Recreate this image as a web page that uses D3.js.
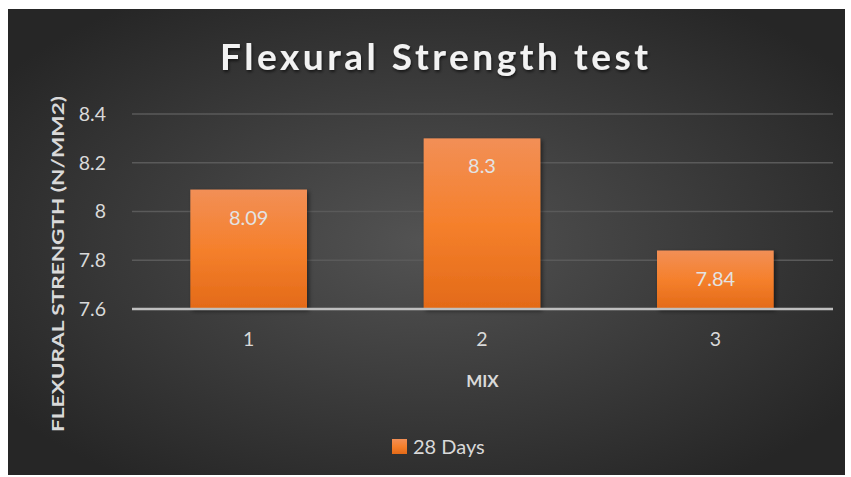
<!DOCTYPE html>
<html>
<head>
<meta charset="utf-8">
<script src="https://cdn.jsdelivr.net/npm/d3@7"></script>
<style>
  html, body { margin: 0; padding: 0; background: #fff; }
  svg { display: block; font-family: Lato, "Open Sans", sans-serif; }
</style>
</head>
<body>
<div id="chart"></div>
<script>
// data
let mixes = ["1", "2", "3"];
let days28 = [8.09, 8.3, 7.84];
let yTicks = [7.6, 7.8, 8.0, 8.2, 8.4];
let seriesName = "28 Days";

const width = 851, height = 477;
const margin = {top: 114, right: 18, bottom: 168, left: 132};

let svg = d3.select("#chart")
  .append("svg")
    .attr("width", width)
    .attr("height", height);

let defs = svg.append("defs");

let bg = defs.append("radialGradient")
  .attr("id", "bg")
  .attr("cx", "50%").attr("cy", "50%").attr("r", "62%");
bg.append("stop").attr("offset", "0%").attr("stop-color", "#535353");
bg.append("stop").attr("offset", "100%").attr("stop-color", "#262626");

let barGrad = defs.append("linearGradient")
  .attr("id", "barGrad")
  .attr("x1", 0).attr("y1", 0).attr("x2", 0).attr("y2", 1);
barGrad.append("stop").attr("offset", "0%").attr("stop-color", "#f28f56");
barGrad.append("stop").attr("offset", "50%").attr("stop-color", "#f5802c");
barGrad.append("stop").attr("offset", "100%").attr("stop-color", "#e36a18");

let shadow = defs.append("filter").attr("id", "shadow")
  .attr("x", "-10%").attr("y", "-10%").attr("width", "130%").attr("height", "130%");
shadow.append("feDropShadow")
  .attr("dx", 2).attr("dy", 2).attr("stdDeviation", 2)
  .attr("flood-color", "#000").attr("flood-opacity", 0.5);

let titleShadow = defs.append("filter").attr("id", "tshadow");
titleShadow.append("feDropShadow")
  .attr("dx", 1).attr("dy", 2).attr("stdDeviation", 1.5)
  .attr("flood-color", "#000").attr("flood-opacity", 0.6);

// background panel
svg.append("rect")
  .attr("x", 8).attr("y", 9)
  .attr("width", 837).attr("height", 466)
  .attr("fill", "url(#bg)");

let x = d3.scaleBand()
  .domain(mixes)
  .range([margin.left, width - margin.right - 1])
  .paddingInner(0.5)
  .paddingOuter(0.25);

let y = d3.scaleLinear()
  .domain([7.6, 8.4])
  .range([height - margin.bottom, margin.top]);

// gridlines
svg.append("g")
  .selectAll("line")
  .data(yTicks.slice(1))
  .enter()
  .append("line")
    .attr("x1", margin.left)
    .attr("x2", width - margin.right)
    .attr("y1", d => y(d))
    .attr("y2", d => y(d))
    .attr("stroke", "#5a5a5a")
    .attr("stroke-width", 1.5);

// y tick labels
let yAxis = svg.append("g")
  .attr("transform", "translate(" + (margin.left - 23) + ",0)")
  .call(d3.axisLeft(y).tickValues(yTicks).tickSize(0).tickFormat(d3.format("~g")));
yAxis.select(".domain").remove();
yAxis.selectAll("text")
  .attr("fill", "#d9d9d9")
  .style("font-size", "19.5px")
  .style("font-family", "Lato, 'Open Sans', sans-serif");

// bars
svg.append("g")
  .selectAll("rect")
  .data(days28)
  .enter()
  .append("rect")
    .attr("x", (d, i) => x(mixes[i]))
    .attr("y", d => y(d))
    .attr("width", x.bandwidth())
    .attr("height", d => y(7.6) - y(d))
    .attr("fill", "url(#barGrad)")
    .attr("filter", "url(#shadow)");

// bar labels
svg.append("g")
  .selectAll("text")
  .data(days28)
  .enter()
  .append("text")
    .attr("x", (d, i) => x(mixes[i]) + x.bandwidth() / 2)
    .attr("y", d => y(d) + 35)
    .attr("text-anchor", "middle")
    .attr("fill", "#e3e3e3")
    .style("font-size", "20px")
    .text(d => d);

// x axis line
svg.append("line")
  .attr("x1", margin.left)
  .attr("x2", width - margin.right)
  .attr("y1", y(7.6))
  .attr("y2", y(7.6))
  .attr("stroke", "#bfbfbf")
  .attr("stroke-width", 2.5);

// x tick labels
let xAxis = svg.append("g")
  .attr("transform", "translate(0," + (y(7.6) + 20) + ")")
  .call(d3.axisBottom(x).tickSize(0));
xAxis.select(".domain").remove();
xAxis.selectAll("text")
  .attr("fill", "#d9d9d9")
  .style("font-size", "19.5px")
  .style("font-family", "Lato, 'Open Sans', sans-serif");

// axis titles
svg.append("text")
  .attr("x", (margin.left + width - margin.right) / 2)
  .attr("y", 387)
  .attr("text-anchor", "middle")
  .attr("fill", "#d9d9d9")
  .style("font-size", "17px")
  .style("font-weight", "bold")
  .text("MIX");

svg.append("text")
  .attr("transform", "translate(64,264) rotate(-90)")
  .attr("text-anchor", "middle")
  .attr("fill", "#d9d9d9")
  .style("font-size", "17px")
  .style("font-weight", "bold")
  .attr("textLength", 336)
  .attr("lengthAdjust", "spacingAndGlyphs")
  .text("FLEXURAL STRENGTH (N/MM2)");

// title
svg.append("text")
  .attr("x", 434)
  .attr("y", 70)
  .attr("text-anchor", "middle")
  .attr("fill", "#f2f2f2")
  .attr("filter", "url(#tshadow)")
  .style("font-size", "37px")
  .style("font-weight", "bold")
  .attr("textLength", 428)
  .attr("lengthAdjust", "spacing")
  .text("Flexural Strength test");

// legend
let legend = svg.append("g").attr("transform", "translate(392,439)");
legend.append("rect")
  .attr("width", 15).attr("height", 15)
  .attr("fill", "url(#barGrad)");
legend.append("text")
  .attr("x", 21).attr("y", 15)
  .attr("fill", "#d9d9d9")
  .style("font-size", "20px")
  .text(seriesName);
</script>
</body>
</html>
